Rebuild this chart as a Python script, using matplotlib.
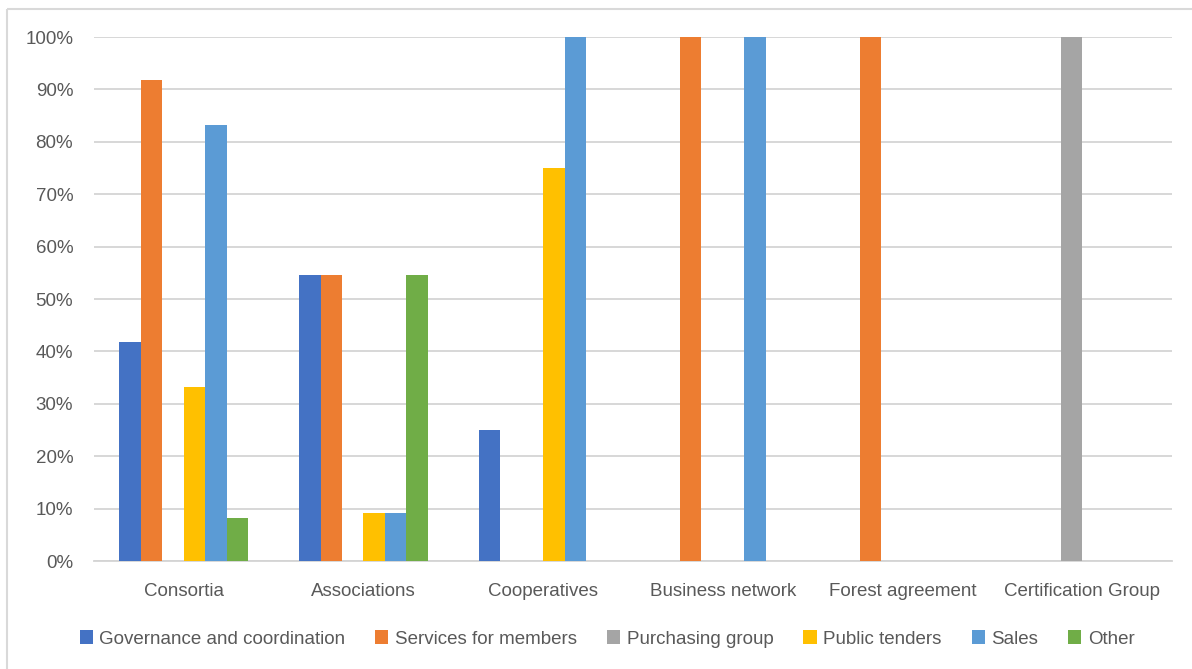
import matplotlib
matplotlib.use("Agg")
import matplotlib.pyplot as plt
import numpy as np
from matplotlib.patches import Rectangle

categories = ["Consortia", "Associations", "Cooperatives", "Business network",
              "Forest agreement", "Certification Group"]
series_names = ["Governance and coordination", "Services for members", "Purchasing group",
                "Public tenders", "Sales", "Other"]
governance = [41.7, 54.5, 25.0, 0, 0, 0]
services = [91.7, 54.5, 0, 100, 100, 0]
purchasing = [0, 0, 0, 0, 0, 100]
tenders = [33.3, 9.1, 75.0, 0, 0, 0]
sales = [83.3, 9.1, 100, 100, 0, 0]
other = [8.3, 54.5, 0, 0, 0, 0]
colors = ["#4472C4", "#ED7D31", "#A5A5A5", "#FFC000", "#5B9BD5", "#70AD47"]
yticks = [0, 10, 20, 30, 40, 50, 60, 70, 80, 90, 100]

plt.rcParams['font.family'] = ['Liberation Sans', 'DejaVu Sans']
W, H = 1192, 669
fig = plt.figure(figsize=(W / 100, H / 100), dpi=100)
fig.patch.set_facecolor("white")

# outer chart border
fig.patches.append(Rectangle((7 / W, 1 - 9 / H), 2, -2, transform=fig.transFigure,
                             fill=False, edgecolor="#D9D9D9", linewidth=1.5))

left, right, top, bottom = 94, 1172, 37, 561
ax = fig.add_axes([left / W, 1 - bottom / H, (right - left) / W, (bottom - top) / H])

data = [governance, services, purchasing, tenders, sales, other]
n = len(data)
x = np.arange(len(categories))
bw = 1 / (n + 2.36)
for i, (vals, name, c) in enumerate(zip(data, series_names, colors)):
    ax.bar(x + (i - (n - 1) / 2) * bw, vals, width=bw, color=c, label=name, zorder=3)

ax.set_xlim(-0.5, len(categories) - 0.5)
ax.set_ylim(0, 100)
ax.set_yticks(yticks)
ax.set_yticklabels([f"{v}%" for v in yticks])
ax.set_xticks(x)
ax.set_xticklabels(categories)
ax.grid(axis="y", color="#D4D4D4", linewidth=1.3, zorder=0)
for s in ["top", "right", "left"]:
    ax.spines[s].set_visible(False)
ax.spines["bottom"].set_color("#D4D4D4")
ax.spines["bottom"].set_linewidth(1.3)
ax.tick_params(axis="both", length=0, labelsize=13.5, colors="#595959")
ax.tick_params(axis="x", pad=16)
ax.tick_params(axis="y", pad=15)

handles, labels = ax.get_legend_handles_labels()
fig.legend(handles, labels, loc="center", bbox_to_anchor=(607 / W, 1 - 639 / H), ncol=6,
           frameon=False, fontsize=13.5, handlelength=0.7, handleheight=0.7,
           handletextpad=0.35, columnspacing=1.6, labelcolor="#595959")

fig.savefig("out.png", dpi=100, facecolor="white")
